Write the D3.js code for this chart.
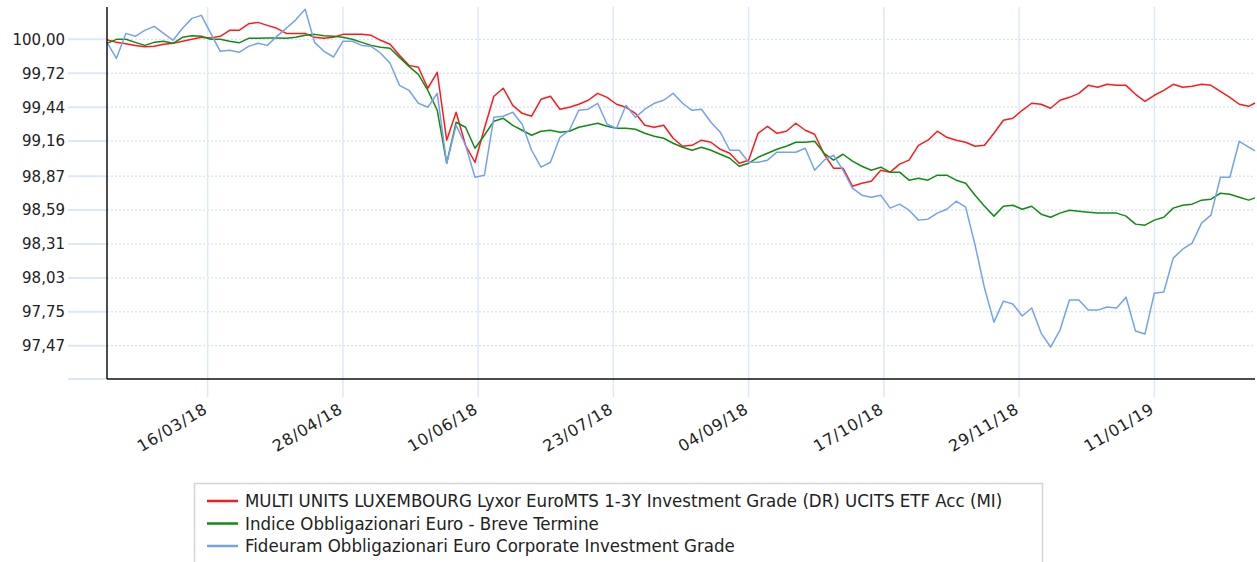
<!DOCTYPE html>
<html lang="it">
<head>
<meta charset="utf-8">
<script src="https://d3js.org/d3.v7.min.js"></script>
<style>
  body { margin: 0; background: #fff; }
  svg text { font-family: "DejaVu Sans", Verdana, sans-serif; fill: #222; }
  .legend text { font-family: "DejaVu Sans Condensed", "Liberation Sans Narrow", "Liberation Sans", sans-serif; }
</style>
</head>
<body>
<script>
// start of the period, one point every 3 days (plus last day)
var startDate = new Date(2018, 1, 12);
var endDate = new Date(2019, 1, 12);
var dayOffsets = d3.range(0, 364, 3).concat([365]);

var seriesNames = [
  "MULTI UNITS LUXEMBOURG Lyxor EuroMTS 1-3Y Investment Grade (DR) UCITS ETF Acc (MI)",
  "Indice Obbligazionari Euro - Breve Termine",
  "Fideuram Obbligazionari Euro Corporate Investment Grade"
];
var seriesColors = ["#ff1a1a", "#138a13", "#76a1ee"];

var lyxor = [
  99.996, 99.975, 99.963, 99.950, 99.938, 99.942, 99.959, 99.967, 99.984, 100.000,
  100.017, 100.012, 100.025, 100.074, 100.074, 100.128, 100.140, 100.115, 100.091, 100.049,
  100.049, 100.049, 100.017, 100.008, 100.017, 100.041, 100.041, 100.041, 100.033, 99.992,
  99.959, 99.868, 99.785,
  99.769, 99.596, 99.728, 99.167, 99.398, 99.125, 98.985, 99.266, 99.530, 99.596,
  99.455, 99.389, 99.365, 99.505, 99.530, 99.423, 99.439, 99.464, 99.497, 99.554,
  99.521, 99.464, 99.439, 99.389, 99.290, 99.274, 99.290, 99.183, 99.117, 99.125,
  99.167, 99.150, 99.092, 99.059, 98.977, 99.002, 99.224, 99.282, 99.224, 99.241,
  99.307, 99.249, 99.216, 99.051, 98.936, 98.936, 98.787, 98.812, 98.828, 98.919,
  98.903, 98.969, 99.002, 99.125, 99.167, 99.241, 99.191, 99.167, 99.150, 99.117,
  99.125, 99.224, 99.332, 99.348, 99.414, 99.472, 99.464, 99.431, 99.497, 99.521,
  99.554, 99.620, 99.604, 99.629, 99.620, 99.620, 99.546, 99.488, 99.538, 99.579,
  99.629, 99.604, 99.612, 99.629, 99.620, 99.571, 99.521, 99.464, 99.447,
  99.474
];

var indice = [
  99.967, 100.000, 100.000, 99.975, 99.950, 99.975, 99.984, 99.967, 100.017, 100.029,
  100.025, 100.000, 100.000, 99.984, 99.971, 100.008, 100.008, 100.011, 100.011, 100.008,
  100.017, 100.033, 100.041, 100.029, 100.025, 100.017, 100.000, 99.975, 99.950, 99.934,
  99.926, 99.851, 99.777,
  99.711, 99.579, 99.414, 98.977, 99.315, 99.274, 99.101, 99.208, 99.324, 99.348,
  99.290, 99.249, 99.208, 99.241, 99.249, 99.233, 99.241, 99.274, 99.290, 99.307,
  99.282, 99.266, 99.266, 99.257, 99.224, 99.200, 99.183, 99.142, 99.109, 99.084,
  99.109, 99.084, 99.051, 99.018, 98.952, 98.977, 99.026, 99.059, 99.092, 99.117,
  99.150, 99.150, 99.158, 99.059, 99.002, 99.051, 98.994, 98.952, 98.919, 98.944,
  98.903, 98.903, 98.837, 98.853, 98.837, 98.878, 98.878, 98.837, 98.812, 98.713,
  98.622, 98.540, 98.622, 98.630, 98.597, 98.622, 98.556, 98.531, 98.565, 98.589,
  98.581, 98.573, 98.565, 98.565, 98.565, 98.540, 98.474, 98.465, 98.507, 98.531,
  98.606, 98.630, 98.639, 98.672, 98.680, 98.729, 98.721, 98.696, 98.672,
  98.691
];

var fideuram = [
  99.975, 99.843, 100.049, 100.025, 100.074, 100.107, 100.049, 99.992, 100.091, 100.173,
  100.198, 100.049, 99.901, 99.909, 99.893, 99.942, 99.967, 99.950, 100.025, 100.091,
  100.161, 100.248, 99.975, 99.901, 99.854, 99.984, 99.984, 99.950, 99.942, 99.885,
  99.802, 99.620, 99.579,
  99.472, 99.439, 99.554, 98.977, 99.290, 99.125, 98.861, 98.878, 99.356, 99.365,
  99.398, 99.299, 99.084, 98.944, 98.985, 99.191, 99.249, 99.414, 99.423, 99.472,
  99.299, 99.266, 99.455, 99.356, 99.423, 99.472, 99.497, 99.554, 99.472, 99.414,
  99.423, 99.315, 99.233, 99.084, 99.084, 98.985, 98.985, 99.002, 99.068, 99.068,
  99.068, 99.101, 98.919, 99.002, 99.043, 98.919, 98.771, 98.713, 98.696, 98.713,
  98.606, 98.639, 98.589, 98.507, 98.515, 98.565, 98.597, 98.663, 98.614, 98.300,
  97.946, 97.665, 97.838, 97.814, 97.715, 97.781, 97.574, 97.459, 97.599, 97.847,
  97.847, 97.764, 97.764, 97.789, 97.781, 97.871, 97.591, 97.566, 97.904, 97.913,
  98.193, 98.267, 98.317, 98.482, 98.548, 98.861, 98.861, 99.158, 99.109,
  99.078
];

var yTicks = [100.00, 99.72, 99.44, 99.16, 98.87, 98.59, 98.31, 98.03, 97.75, 97.47];
var yBottom = 97.195, yTop = 100.267;
var xTickLabels = ["16/03/18", "28/04/18", "10/06/18", "23/07/18", "04/09/18", "17/10/18", "29/11/18", "11/01/19"];

var width = 1257, height = 562;
var plot = { left: 107, right: 1255, top: 7, bottom: 379 };

var svg = d3.select("body").append("svg")
  .attr("width", width)
  .attr("height", height);

var parseTick = d3.timeParse("%d/%m/%y");
var x = d3.scaleTime().domain([startDate, endDate]).range([plot.left, plot.right]);
var y = d3.scaleLinear().domain([yBottom, yTop]).range([plot.bottom, plot.top]);

var fmt = d3.format(".2f");

// horizontal grid: solid part left of the axis, dotted inside
var hLines = yTicks.concat([yBottom]);
svg.append("g").selectAll("line").data(hLines).enter().append("line")
  .attr("x1", 68).attr("x2", plot.left)
  .attr("y1", d => y(d)).attr("y2", d => y(d))
  .attr("stroke", "#dce7f8").attr("stroke-width", 2);
svg.append("g").selectAll("line").data(yTicks).enter().append("line")
  .attr("x1", plot.left).attr("x2", plot.right)
  .attr("y1", d => y(d)).attr("y2", d => y(d))
  .attr("stroke", "#c9dbf4").attr("stroke-width", 1)
  .attr("stroke-dasharray", "2,2");

// vertical grid
svg.append("g").selectAll("line").data(xTickLabels).enter().append("line")
  .attr("x1", d => x(parseTick(d))).attr("x2", d => x(parseTick(d)))
  .attr("y1", plot.top).attr("y2", 397)
  .attr("stroke", "#dde8f9").attr("stroke-width", 1.5);

// y labels
svg.append("g").selectAll("text").data(yTicks).enter().append("text")
  .attr("x", 65).attr("y", d => y(d))
  .attr("dy", "0.36em")
  .attr("text-anchor", "end")
  .style("font-size", "15px")
  .text(d => fmt(d).replace(".", ","));

// x labels
svg.append("g").selectAll("text").data(xTickLabels).enter().append("text")
  .attr("transform", d => "translate(" + (x(parseTick(d)) + 1) + ",412) rotate(-31)")
  .attr("text-anchor", "end")
  .style("font-size", "16px")
  .style("letter-spacing", "0.8px")
  .text(d => d);

// series
var line = d3.line()
  .x((d, i) => x(d3.timeDay.offset(startDate, dayOffsets[i])))
  .y(d => y(d));

[lyxor, indice, fideuram].forEach(function(s, k) {
  svg.append("path")
    .attr("d", line(s))
    .attr("fill", "none")
    .attr("stroke", seriesColors[k])
    .attr("stroke-width", 1.5)
    .attr("stroke-linejoin", "round");
});

// axes lines
svg.append("line")
  .attr("x1", plot.left).attr("x2", plot.left)
  .attr("y1", plot.top).attr("y2", plot.bottom)
  .attr("stroke", "#111").attr("stroke-width", 1.5);
svg.append("line")
  .attr("x1", plot.left).attr("x2", plot.right)
  .attr("y1", plot.bottom).attr("y2", plot.bottom)
  .attr("stroke", "#111").attr("stroke-width", 1.5);

// legend
var legend = svg.append("g").attr("class", "legend");
legend.append("rect")
  .attr("x", 194.5).attr("y", 483.5)
  .attr("width", 848).attr("height", 90)
  .attr("fill", "#fff").attr("stroke", "#d4d4d4").attr("stroke-width", 1.5);

var rows = legend.selectAll("g.row").data(seriesNames).enter().append("g")
  .attr("class", "row")
  .attr("transform", (d, i) => "translate(207," + (501 + i * 22.5) + ")");
rows.append("line")
  .attr("x1", 0).attr("x2", 31)
  .attr("stroke", (d, i) => seriesColors[i])
  .attr("stroke-width", 2.5);
rows.append("text")
  .attr("x", 38).attr("dy", "0.35em")
  .style("font-size", "18.5px")
  .text(d => d);
</script>
</body>
</html>
